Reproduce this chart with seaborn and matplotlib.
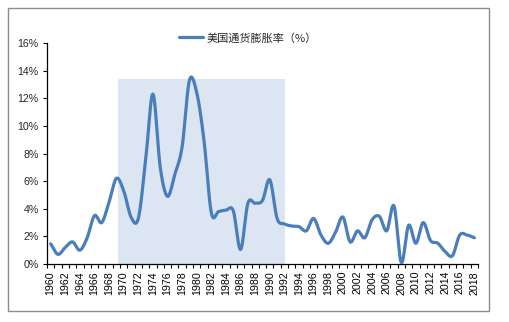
import numpy as np
import pandas as pd
import matplotlib
matplotlib.use("Agg")
import matplotlib.pyplot as plt
from matplotlib.patches import Rectangle
import seaborn as sns

# Annual US inflation rate (%), 1960-2018
years = list(range(1960, 2019))
inflation = [
    1.46, 0.70, 1.20, 1.60, 1.00, 1.90, 3.50, 3.00, 4.50, 6.20,  # 1960-1969
    5.30, 3.40, 3.30, 7.50, 12.30, 7.00, 4.90, 6.50, 8.50, 13.30,  # 1970-1979
    12.40, 8.90, 3.70, 3.80, 3.90, 3.85, 1.05, 4.40, 4.40, 4.60,  # 1980-1989
    6.10, 3.30, 2.90, 2.75, 2.70, 2.40, 3.30, 2.10, 1.50, 2.30,  # 1990-1999
    3.40, 1.60, 2.40, 1.90, 3.20, 3.45, 2.40, 4.20, 0.10, 2.80,  # 2000-2009
    1.50, 3.00, 1.70, 1.50, 0.90, 0.60, 2.10, 2.10, 1.90,        # 2010-2018
]
series_label = "美国通货膨胀率（%）"
y_ticks = [0, 2, 4, 6, 8, 10, 12, 14, 16]
highlight_period = (1969.2, 1992.1)
highlight_top = 13.4

LINE_COLOR = "#4A7EBB"
SHADE_COLOR = "#DCE6F2"


def smooth_curve(x, y, steps=24):
    """Catmull-Rom smoothing, the same style as a spreadsheet 'smoothed line'."""
    x = np.asarray(x, float)
    y = np.asarray(y, float)
    px = np.concatenate([[2 * x[0] - x[1]], x, [2 * x[-1] - x[-2]]])
    py = np.concatenate([[2 * y[0] - y[1]], y, [2 * y[-1] - y[-2]]])
    xs, ys = [], []
    t = np.linspace(0, 1, steps, endpoint=False)
    for i in range(1, len(px) - 2):
        p0, p1, p2, p3 = py[i - 1], py[i], py[i + 1], py[i + 2]
        q0, q1, q2, q3 = px[i - 1], px[i], px[i + 1], px[i + 2]
        c1y, c2y = p1 + (p2 - p0) / 6, p2 - (p3 - p1) / 6
        c1x, c2x = q1 + (q2 - q0) / 6, q2 - (q3 - q1) / 6
        b0 = (1 - t) ** 3
        b1 = 3 * (1 - t) ** 2 * t
        b2 = 3 * (1 - t) * t ** 2
        b3 = t ** 3
        xs.append(b0 * q1 + b1 * c1x + b2 * c2x + b3 * q2)
        ys.append(b0 * p1 + b1 * c1y + b2 * c2y + b3 * p2)
    xs.append([x[-1]])
    ys.append([y[-1]])
    return np.concatenate(xs), np.concatenate(ys)


sns.set_theme(style="white")
plt.rcParams["font.family"] = ["Liberation Sans", "Noto Sans CJK SC", "DejaVu Sans"]

fig = plt.figure(figsize=(5.10, 3.22), dpi=100)
ax = fig.add_axes([47 / 510, 1 - 264 / 322, (478 - 47) / 510, (264 - 43) / 322])

# highlighted high-inflation period
ax.add_patch(Rectangle((highlight_period[0], 0), highlight_period[1] - highlight_period[0],
                       highlight_top, facecolor=SHADE_COLOR, edgecolor="none", zorder=0))

sx, sy = smooth_curve(years, inflation)
df = pd.DataFrame({"year": sx, "rate": sy})
sns.lineplot(data=df, x="year", y="rate", ax=ax, color=LINE_COLOR, linewidth=2.3,
             sort=False, estimator=None, label=series_label, zorder=3)

ax.set_xlim(years[0] - 0.5, years[-1] + 0.5)
ax.set_ylim(0, 16)
ax.set_xlabel("")
ax.set_ylabel("")

ax.set_xticks(years[::2])
ax.set_xticklabels([str(y) for y in years[::2]], rotation=90, fontsize=7.7)
ax.set_xticks(np.arange(years[0] - 0.5, years[-1] + 1.0, 1.0), minor=True)
ax.set_yticks(y_ticks)
ax.set_yticklabels([f"{v}%" for v in y_ticks], fontsize=7.7)

ax.tick_params(axis="x", which="major", length=0, pad=5, colors="black")
ax.tick_params(axis="x", which="minor", length=3, width=0.8, direction="out",
               color="black", bottom=True)
ax.tick_params(axis="y", which="major", length=3, width=0.8, direction="out",
               color="black", left=True, pad=3)

for side in ("top", "right"):
    ax.spines[side].set_visible(False)
for side in ("left", "bottom"):
    ax.spines[side].set_color("black")
    ax.spines[side].set_linewidth(0.9)

leg = ax.legend(loc="center", bbox_to_anchor=(248 / 510, 1 - 38 / 322),
                bbox_transform=fig.transFigure, frameon=False, fontsize=8,
                handlelength=2.2, handletextpad=0.35, borderaxespad=0)
for t in leg.get_texts():
    t.set_family(["Noto Sans CJK SC", "DejaVu Sans"])

# outer frame around the chart
fig.add_artist(Rectangle((8 / 510, 1 - 311 / 322), (489 - 8) / 510, (311 - 8) / 322,
                         transform=fig.transFigure, fill=False, edgecolor="#8C8C8C",
                         linewidth=1.0))

fig.savefig("out.png", dpi=100)
